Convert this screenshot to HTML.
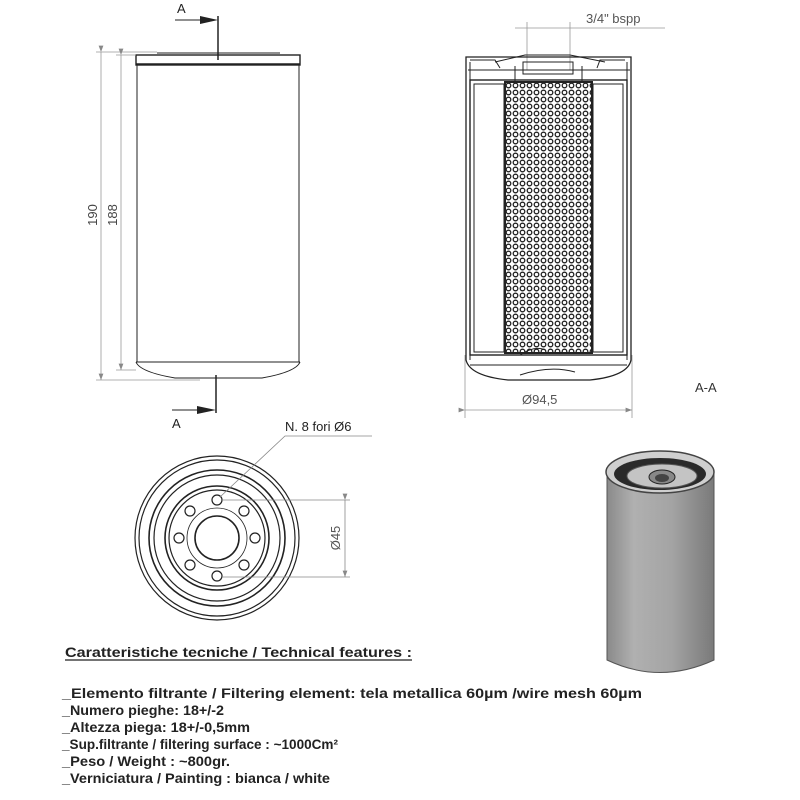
<!DOCTYPE html>
<html><head><meta charset="utf-8"><style>
html,body{margin:0;padding:0;background:#fff;}
svg{display:block;}
text{font-family:"Liberation Sans",sans-serif;}
</style></head><body>
<svg width="800" height="800" viewBox="0 0 800 800" xmlns="http://www.w3.org/2000/svg">
<defs>
<pattern id="mesh" x="505" y="82" width="7" height="7" patternUnits="userSpaceOnUse">
<rect width="7" height="7" fill="#fff"/>
<circle cx="3.5" cy="3.5" r="2.3" fill="none" stroke="#222" stroke-width="1.3"/>
</pattern>
<linearGradient id="cyl" x1="0" x2="1">
<stop offset="0" stop-color="#8a8a8a"/><stop offset="0.25" stop-color="#b0b0b0"/><stop offset="0.6" stop-color="#a4a4a4"/><stop offset="1" stop-color="#7a7a7a"/>
</linearGradient>
<marker id="ar" markerWidth="8" markerHeight="6" refX="8" refY="3" orient="auto"><path d="M0,0 L8,3 L0,6z" fill="#888"/></marker>
</defs>

<!-- LEFT VIEW -->
<g stroke="#222" fill="none" stroke-width="1">
<line x1="157" y1="53" x2="280" y2="53"/>
<rect x="136" y="55" width="164" height="10" stroke-width="1.4"/>
<line x1="136" y1="64" x2="300" y2="64" stroke-width="1.6"/>
<line x1="137" y1="65" x2="137" y2="362"/>
<line x1="299" y1="65" x2="299" y2="362"/>
<line x1="136" y1="362" x2="300" y2="362"/>
<path d="M136,362 Q140,372 175,378 L262,378 Q296,372 300,362"/>
<line x1="218" y1="16" x2="218" y2="60" stroke-width="1.5"/>
<line x1="175" y1="20" x2="205" y2="20"/>
<line x1="216" y1="375" x2="216" y2="413" stroke-width="1.5"/>
<line x1="172" y1="410" x2="202" y2="410"/>
</g>
<path d="M200,16 L218,20 L200,24z" fill="#222"/>
<path d="M197,406 L216,410 L197,414z" fill="#222"/>
<text x="177" y="13" font-size="13" fill="#222">A</text>
<text x="172" y="428" font-size="13" fill="#222">A</text>
<g stroke="#999" stroke-width="0.8">
<line x1="96" y1="52" x2="157" y2="52"/>
<line x1="96" y1="380" x2="200" y2="380"/>
<line x1="101" y1="52" x2="101" y2="380" marker-start="url(#ar)" marker-end="url(#ar)"/>
<line x1="121" y1="55" x2="121" y2="370" marker-start="url(#ar)" marker-end="url(#ar)"/>
<line x1="116" y1="55" x2="136" y2="55"/>
<line x1="116" y1="370" x2="136" y2="370"/>
</g>
<text transform="translate(97,215) rotate(-90)" font-size="13" fill="#444" text-anchor="middle">190</text>
<text transform="translate(117,215) rotate(-90)" font-size="13" fill="#444" text-anchor="middle">188</text>

<!-- SECTION VIEW -->
<g stroke="#999" stroke-width="0.8" fill="none">
<line x1="515" y1="28" x2="665" y2="28"/>
<line x1="527" y1="22" x2="527" y2="70"/>
<line x1="570" y1="22" x2="570" y2="70"/>
<line x1="465" y1="355" x2="465" y2="418"/>
<line x1="632" y1="355" x2="632" y2="418"/>
<line x1="465" y1="410" x2="632" y2="410" marker-start="url(#ar)" marker-end="url(#ar)"/>
</g>
<text x="586" y="23" font-size="13" fill="#555">3/4" bspp</text>
<text x="522" y="404" font-size="13" fill="#555">Ø94,5</text>
<text x="695" y="392" font-size="13" fill="#333">A-A</text>
<g stroke="#222" fill="none" stroke-width="1">
<rect x="505" y="82" width="87" height="271" fill="url(#mesh)" stroke-width="2"/>
<path d="M466,57 L631,57 L631,360 Q628,376 590,380 L508,380 Q470,376 466,360 Z" stroke-width="1.3"/>
<line x1="470" y1="62" x2="470" y2="360"/>
<line x1="627" y1="62" x2="627" y2="360"/>
<rect x="470" y="80" width="157" height="275" stroke-width="1.4"/>
<rect x="474" y="84" width="30" height="268"/>
<rect x="593" y="84" width="30" height="268"/>
<line x1="468" y1="70" x2="630" y2="70"/>
<path d="M470,60 L495,60 L500,68 M625,60 L600,60 L597,68"/>
<path d="M495,62 L525,55 L570,55 L605,62"/>
<rect x="523" y="62" width="50" height="12"/>
<path d="M515,66 L515,82 M582,66 L582,82"/>
<line x1="470" y1="365" x2="627" y2="365"/>
<path d="M520,355 Q535,345 545,350 M520,375 Q550,365 575,372"/>
</g>

<!-- BOTTOM VIEW -->
<g stroke="#222" fill="none" stroke-width="1.2">
<circle cx="217" cy="538" r="82"/>
<circle cx="217" cy="538" r="78"/>
<circle cx="217" cy="538" r="68" stroke-width="1.6"/>
<circle cx="217" cy="538" r="63"/>
<circle cx="217" cy="538" r="52" stroke-width="1.6"/>
<circle cx="217" cy="538" r="48"/>
<circle cx="217" cy="538" r="30" stroke-width="0.8"/>
<circle cx="217" cy="538" r="22" stroke-width="1.6"/>
<g stroke-width="1.2">
<circle cx="217" cy="500" r="5"/><circle cx="217" cy="576" r="5"/>
<circle cx="179" cy="538" r="5"/><circle cx="255" cy="538" r="5"/>
<circle cx="190" cy="511" r="5"/><circle cx="244" cy="511" r="5"/>
<circle cx="190" cy="565" r="5"/><circle cx="244" cy="565" r="5"/>
</g>
</g>
<g stroke="#888" stroke-width="0.8" fill="none">
<line x1="222" y1="500" x2="350" y2="500"/>
<line x1="222" y1="577" x2="350" y2="577"/>
<line x1="345" y1="500" x2="345" y2="577" marker-start="url(#ar)" marker-end="url(#ar)"/>
<polyline points="220,497 285,436 372,436"/>
</g>
<text transform="translate(340,538) rotate(-90)" font-size="13" fill="#555" text-anchor="middle">Ø45</text>
<text x="285" y="431" font-size="13" fill="#222">N. 8 fori  Ø6</text>

<!-- 3D -->
<path d="M607,472 L607,660 Q660,685 714,660 L714,472 Z" fill="url(#cyl)" stroke="#555"/>
<ellipse cx="660" cy="472" rx="54" ry="21" fill="#cfcfcf" stroke="#444" stroke-width="1.5"/>
<ellipse cx="660" cy="474" rx="46" ry="16" fill="#2a2a2a"/>
<ellipse cx="662" cy="476" rx="35" ry="12" fill="#c4c4c4" stroke="#555"/>
<ellipse cx="662" cy="477" rx="13" ry="7" fill="#888" stroke="#222"/>
<ellipse cx="662" cy="478" rx="7" ry="4" fill="#444"/>

<!-- TEXT -->
<g font-weight="bold" font-size="14" fill="#222">
<text x="65" y="657" textLength="347" lengthAdjust="spacingAndGlyphs">Caratteristiche tecniche / Technical features :</text>
<line x1="65" y1="660" x2="412" y2="660" stroke="#222" stroke-width="1.2"/>
<text x="62" y="698" textLength="580" lengthAdjust="spacingAndGlyphs">_Elemento filtrante / Filtering element: tela metallica 60µm /wire mesh 60µm</text>
<text x="62" y="715" textLength="162" lengthAdjust="spacingAndGlyphs">_Numero pieghe: 18+/-2</text>
<text x="62" y="732" textLength="188" lengthAdjust="spacingAndGlyphs">_Altezza piega: 18+/-0,5mm</text>
<text x="62" y="749" textLength="276" lengthAdjust="spacingAndGlyphs">_Sup.filtrante / filtering surface : ~1000Cm²</text>
<text x="62" y="766" textLength="168" lengthAdjust="spacingAndGlyphs">_Peso / Weight : ~800gr.</text>
<text x="62" y="783" textLength="268" lengthAdjust="spacingAndGlyphs">_Verniciatura / Painting : bianca / white</text>
</g>
</svg>
</body></html>
